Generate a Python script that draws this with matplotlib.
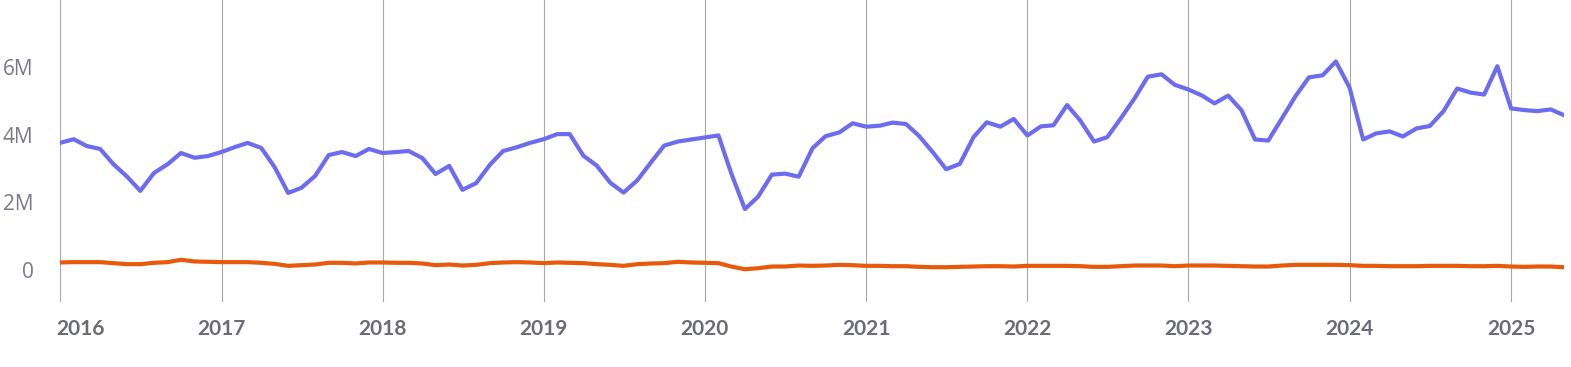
import matplotlib
matplotlib.use("Agg")
import matplotlib.pyplot as plt
import matplotlib.transforms as mtrans
import pandas as pd

# monthly values, Jan 2016 .. May 2025 (millions)
months = pd.date_range("2016-01-01", periods=113, freq="MS")

blue = [
    3.76, 3.87, 3.67, 3.58, 3.13, 2.76, 2.34, 2.87, 3.13, 3.46, 3.32, 3.37,  # 2016
    3.49, 3.64, 3.76, 3.61, 3.05, 2.28, 2.43, 2.78, 3.40, 3.49, 3.37, 3.58,  # 2017
    3.46, 3.49, 3.52, 3.31, 2.84, 3.08, 2.37, 2.57, 3.11, 3.52, 3.63, 3.76,  # 2018
    3.87, 4.02, 4.02, 3.38, 3.09, 2.58, 2.29, 2.65, 3.18, 3.68, 3.80, 3.86,  # 2019
    3.92, 3.98, 2.86, 1.80, 2.17, 2.82, 2.85, 2.76, 3.60, 3.96, 4.07, 4.34,  # 2020
    4.24, 4.27, 4.36, 4.32, 3.96, 3.48, 2.98, 3.14, 3.93, 4.37, 4.24, 4.47,  # 2021
    3.98, 4.25, 4.28, 4.88, 4.42, 3.80, 3.93, 4.49, 5.08, 5.72, 5.79, 5.48,  # 2022
    5.34, 5.16, 4.93, 5.16, 4.73, 3.86, 3.83, 4.49, 5.15, 5.70, 5.76, 6.17,  # 2023
    5.40, 3.86, 4.04, 4.10, 3.95, 4.19, 4.26, 4.70, 5.37, 5.25, 5.19, 6.03,  # 2024
    4.78, 4.73, 4.70, 4.75, 4.58,                                            # 2025
]

orange = [
    0.22, 0.23, 0.23, 0.23, 0.20, 0.17, 0.17, 0.21, 0.23, 0.30, 0.25, 0.24,
    0.23, 0.23, 0.23, 0.21, 0.18, 0.12, 0.14, 0.16, 0.21, 0.21, 0.19, 0.22,
    0.22, 0.21, 0.21, 0.19, 0.14, 0.16, 0.13, 0.15, 0.20, 0.22, 0.23, 0.22,
    0.20, 0.22, 0.21, 0.20, 0.17, 0.15, 0.12, 0.17, 0.19, 0.20, 0.24, 0.22,
    0.21, 0.20, 0.10, 0.02, 0.05, 0.10, 0.10, 0.13, 0.12, 0.13, 0.15, 0.14,
    0.12, 0.12, 0.11, 0.11, 0.09, 0.08, 0.08, 0.09, 0.10, 0.11, 0.11, 0.10,
    0.12, 0.12, 0.12, 0.12, 0.11, 0.09, 0.09, 0.11, 0.13, 0.13, 0.13, 0.11,
    0.13, 0.13, 0.13, 0.12, 0.11, 0.10, 0.10, 0.13, 0.15, 0.15, 0.15, 0.15,
    0.14, 0.12, 0.12, 0.11, 0.11, 0.11, 0.12, 0.12, 0.12, 0.11, 0.11, 0.12,
    0.10, 0.09, 0.10, 0.10, 0.08,
]

years = pd.date_range("2016-01-01", "2025-01-01", freq="YS")
year_labels = [str(d.year) for d in years]
yticks = [0, 2e6, 4e6, 6e6]
ytick_labels = ["0", "2M", "4M", "6M"]

BLUE = "#6c6cf0"
ORANGE = "#e8590c"
TEXT = "#6b6b78"
YTEXT = "#7a7a86"

plt.rcParams["font.family"] = ["Open Sans", "DejaVu Sans"]

fig = plt.figure(figsize=(15.71, 3.67), dpi=100)
ax = fig.add_axes([60 / 1571, 1 - 302 / 367, (1564 - 60) / 1571, 302 / 367])

ax.plot(months, [v * 1e6 for v in blue], color=BLUE, lw=3, zorder=3)
ax.plot(months, [v * 1e6 for v in orange], color=ORANGE, lw=3, zorder=3)

ax.set_xlim(months[0], months[-1])
ax.set_ylim(-0.95e6, 7.99e6)

ax.set_xticks(years)
ax.set_xticklabels(year_labels, fontsize=15, fontweight="bold", color=TEXT,
                   family=["Lato", "DejaVu Sans"])
ax.set_yticks(yticks)
ax.set_yticklabels(ytick_labels, fontsize=15, color=YTEXT)
ax.tick_params(axis="x", length=0, pad=12)
ax.tick_params(axis="y", length=0, pad=19)

# first year label sits just right of its gridline
first = ax.get_xticklabels()[0]
first.set_horizontalalignment("left")
first.set_transform(first.get_transform() + mtrans.ScaledTranslation(-4 / 100, 0, fig.dpi_scale_trans))

ax.grid(axis="x", color="#a8a8a8", lw=0.8)
ax.grid(axis="y", visible=False)
for s in ax.spines.values():
    s.set_visible(False)

fig.savefig("out.png", dpi=100)
